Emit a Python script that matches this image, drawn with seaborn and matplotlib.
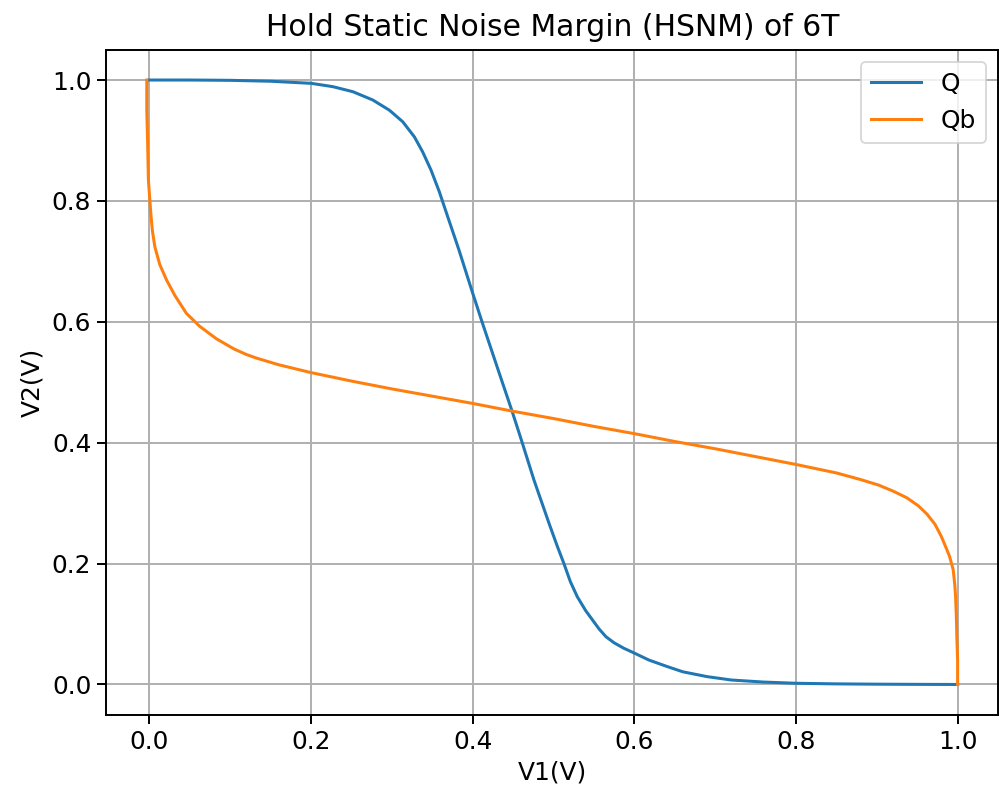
import matplotlib
matplotlib.use("Agg")
import matplotlib.pyplot as plt
import seaborn as sns
import pandas as pd

# Q curve (V1 -> V2)
q_v1 = [0.0, 0.05, 0.10, 0.15, 0.2005, 0.2272, 0.2519, 0.2765, 0.2972, 0.3136, 0.328,
        0.3383, 0.3486, 0.3589, 0.3672, 0.383, 0.40, 0.4123, 0.433, 0.449, 0.46, 0.476,
        0.495, 0.505, 0.513, 0.521, 0.5296, 0.54, 0.5564, 0.565, 0.575, 0.587, 0.60, 0.618,
        0.64, 0.66, 0.69, 0.72, 0.76, 0.80, 0.85, 0.90, 0.95, 1.0]
q_v2 = [1.0, 1.0, 0.9995, 0.998, 0.9945, 0.989, 0.9807, 0.967, 0.950, 0.931, 0.906,
        0.881, 0.851, 0.815, 0.782, 0.7195, 0.648, 0.5975, 0.515, 0.4516, 0.406, 0.338,
        0.265, 0.228, 0.20, 0.17, 0.145, 0.122, 0.092, 0.079, 0.069, 0.060, 0.052, 0.0405,
        0.030, 0.021, 0.013, 0.0074, 0.004, 0.002, 0.001, 0.0005, 0.0002, 0.0]

# Qb curve
qb_v1 = [-0.003, -0.003, -0.002, -0.001, 0.002, 0.004, 0.007, 0.013, 0.0215, 0.032, 0.046,
         0.062, 0.083, 0.105, 0.12, 0.1326, 0.16, 0.20, 0.25, 0.30, 0.35, 0.40, 0.45, 0.50,
         0.55, 0.60, 0.65, 0.70, 0.75, 0.80, 0.85, 0.88, 0.902, 0.92, 0.937, 0.951, 0.962,
         0.972, 0.980, 0.987, 0.990, 0.9945, 0.9965, 0.9975, 0.9985, 0.999, 1.0, 1.0]
qb_v2 = [1.0, 0.95, 0.90, 0.8346, 0.779, 0.75, 0.724, 0.695, 0.669, 0.643, 0.614,
         0.593, 0.572, 0.555, 0.546, 0.540, 0.529, 0.516, 0.502, 0.489, 0.477, 0.465, 0.452,
         0.44, 0.427, 0.415, 0.402, 0.39, 0.377, 0.364, 0.35, 0.339, 0.33, 0.32, 0.309, 0.296,
         0.282, 0.265, 0.2445, 0.222, 0.212, 0.19, 0.165, 0.145, 0.11, 0.08, 0.04, 0.0]

series_names = ["Q", "Qb"]
colors = ["#1f77b4", "#ff7f0e"]

df = pd.concat([
    pd.DataFrame({"V1": q_v1, "V2": q_v2, "curve": series_names[0]}),
    pd.DataFrame({"V1": qb_v1, "V2": qb_v2, "curve": series_names[1]}),
], ignore_index=True)

plt.rcParams.update({
    "font.size": 14,
    "axes.titlesize": 16.8,
    "axes.labelsize": 14,
    "xtick.labelsize": 14,
    "ytick.labelsize": 14,
    "legend.fontsize": 14,
    "axes.linewidth": 1.1,
    "axes.spines.top": True,
    "axes.spines.right": True,
    "axes.spines.left": True,
    "axes.spines.bottom": True,
    "xtick.major.width": 1.1,
    "ytick.major.width": 1.1,
    "xtick.major.size": 4.9,
    "ytick.major.size": 4.9,
})

dpi = 128
fig = plt.figure(figsize=(999 / dpi, 797 / dpi), dpi=dpi)
ax = fig.add_axes([106.2 / 999, 1 - 714.7 / 797, 892.0 / 999, 664.9 / 797])

sns.lineplot(data=df, x="V1", y="V2", hue="curve", units="curve", estimator=None,
             sort=False, palette=colors, linewidth=1.7, ax=ax)

for side in ["top", "right", "left", "bottom"]:
    ax.spines[side].set_visible(True)
    ax.spines[side].set_color("black")
    ax.spines[side].set_linewidth(1.1)

ax.set_xlim(-0.0532, 1.0502)
ax.set_ylim(-0.05, 1.05)
ax.grid(True, color="#b0b0b0", linewidth=1.1)
ax.set_axisbelow(True)
ax.set_title("Hold Static Noise Margin (HSNM) of 6T", pad=8)
ax.set_xlabel("V1(V)")
ax.set_ylabel("V2(V)")
ax.legend(loc="upper right")

fig.savefig("out.png", dpi=dpi)
